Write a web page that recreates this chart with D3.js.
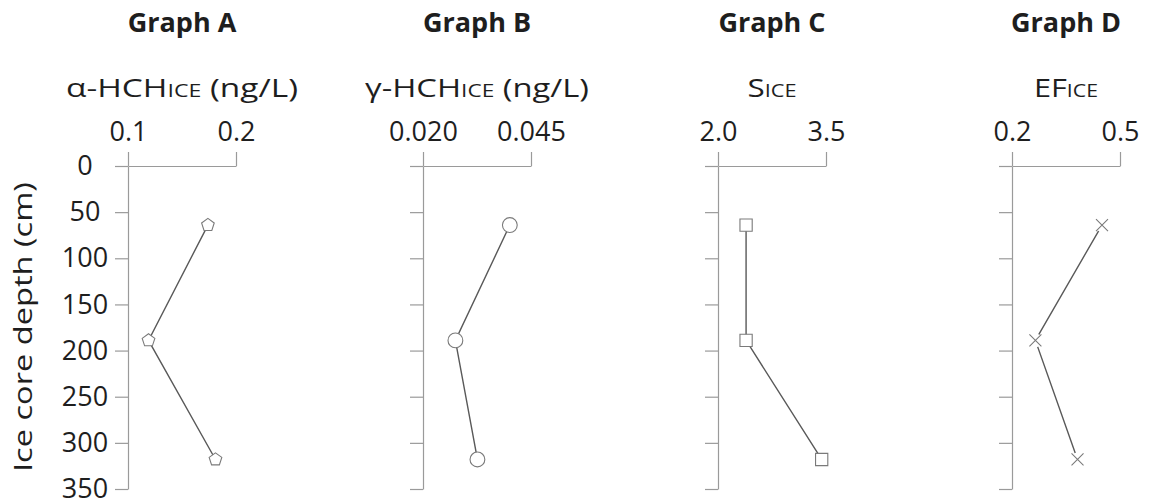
<!DOCTYPE html>
<html>
<head>
<meta charset="utf-8">
<script src="https://cdn.jsdelivr.net/npm/d3@7"></script>
<style>
  body { margin: 0; background: #fff; }
  text { font-family: "Open Sans", sans-serif; fill: #1e1e1e; }
</style>
</head>
<body>
<main></main>
<script>
// Dados (profundidade em cm)
const profundidades = [64, 189, 318];
const alfaHCH = [0.174, 0.119, 0.181];
const gamaHCH = [0.0401, 0.0275, 0.0326];
const sIce = [2.39, 2.39, 3.44];
const efIce = [0.450, 0.265, 0.382];

const titulos = ['Graph A', 'Graph B', 'Graph C', 'Graph D'];
const rotulosPre = ['\u03B1-HCH', '\u03B3-HCH', 'S', 'EF'];
const rotulosPos = [' (ng/L)', ' (ng/L)', '', ''];
const ticksA = [0.1, 0.2];
const ticksB = [0.020, 0.045];
const ticksC = [2.0, 3.5];
const ticksD = [0.2, 0.5];
const ticksY = [0, 50, 100, 150, 200, 250, 300, 350];

// Símbolo pentágono (não existe no d3)
const pentagono = {
    draw(ctx, size) {
        const r = Math.sqrt(size / 2.378);
        for (let i = 0; i < 5; i++) {
            const a = -Math.PI / 2 + i * 2 * Math.PI / 5;
            if (i === 0) ctx.moveTo(r * Math.cos(a), r * Math.sin(a));
            else ctx.lineTo(r * Math.cos(a), r * Math.sin(a));
        }
        ctx.closePath();
    }
};

// Símbolo X
const xis = {
    draw(ctx, size) {
        const r = Math.sqrt(size) / 2;
        ctx.moveTo(-r, -r); ctx.lineTo(r, r);
        ctx.moveTo(r, -r); ctx.lineTo(-r, r);
    }
};

function createChart() {
    const svgWidth = 1151, svgHeight = 503;
    const svg = d3.select('main').append('svg')
        .attr('width', svgWidth)
        .attr('height', svgHeight);

    const top = 166, bottom = 489;
    const larguraPainel = 108;
    const x0s = [128, 423, 718, 1012];

    const yScale = d3.scaleLinear()
        .domain([0, 350])
        .range([top, bottom]);

    const paineis = [
        { valores: alfaHCH, ticks: ticksA, fmt: '.1f', simbolo: pentagono, tamanho: 105, largRotulo: 232 },
        { valores: gamaHCH, ticks: ticksB, fmt: '.3f', simbolo: d3.symbolCircle, tamanho: 172, largRotulo: 224 },
        { valores: sIce, ticks: ticksC, fmt: '.1f', simbolo: d3.symbolSquare, tamanho: 150, largRotulo: 49 },
        { valores: efIce, ticks: ticksD, fmt: '.1f', simbolo: xis, tamanho: 144, largRotulo: 64 }
    ];

    paineis.forEach((p, i) => {
        const x0 = x0s[i];
        const g = svg.append('g');

        const xScale = d3.scaleLinear()
            .domain(p.ticks)
            .range([x0, x0 + larguraPainel]);

        // Eixo vertical (profundidade)
        const eixoY = g.append('g')
            .attr('transform', `translate(${x0},0)`)
            .call(d3.axisLeft(yScale)
                .tickValues(ticksY)
                .tickSize(13)
                .tickSizeOuter(0)
                .tickFormat(i === 0 ? d3.format('d') : () => ''));
        eixoY.selectAll('text')
            .attr('x', -43)
            .attr('text-anchor', 'middle');

        // Eixo horizontal no topo
        const eixoX = g.append('g')
            .attr('transform', `translate(0,${top})`)
            .call(d3.axisTop(xScale)
                .tickValues(p.ticks)
                .tickSize(14)
                .tickSizeOuter(0)
                .tickPadding(11)
                .tickFormat(d3.format(p.fmt)));

        [eixoY, eixoX].forEach(ax => {
            ax.selectAll('path, line').attr('stroke', '#9a9a9a').attr('stroke-width', 1.2);
            ax.selectAll('text')
                .style('font-family', '"Open Sans", sans-serif')
                .style('font-size', '27px')
                .attr('fill', '#1e1e1e');
        });

        // Título do painel
        g.append('text')
            .attr('x', x0 + larguraPainel / 2)
            .attr('y', 32)
            .attr('text-anchor', 'middle')
            .style('font-size', '27px')
            .style('font-weight', 'bold')
            .text(titulos[i]);

        // Rótulo do eixo com ICE em versalete
        const rot = g.append('text')
            .attr('x', x0 + larguraPainel / 2)
            .attr('y', 97)
            .attr('text-anchor', 'middle')
            .attr('textLength', p.largRotulo)
            .attr('lengthAdjust', 'spacingAndGlyphs')
            .style('font-size', '26px');
        rot.append('tspan').text(rotulosPre[i]);
        rot.append('tspan').style('font-size', '18px').text('ICE');
        rot.append('tspan').text(rotulosPos[i]);

        const pontos = p.valores.map((v, k) => [xScale(v), yScale(profundidades[k])]);

        // Linha
        g.append('path')
            .attr('d', d3.line()(pontos))
            .attr('fill', 'none')
            .attr('stroke', '#595959')
            .attr('stroke-width', 1.4);

        // Marcadores
        if (p.simbolo === xis) {
            g.selectAll('.fundo')
                .data(pontos)
                .enter()
                .append('circle')
                .attr('cx', d => d[0])
                .attr('cy', d => d[1])
                .attr('r', 7)
                .attr('fill', '#fff');
        }
        g.selectAll('.marca')
            .data(pontos)
            .enter()
            .append('path')
            .attr('transform', d => `translate(${d[0]},${d[1]})`)
            .attr('d', d3.symbol().type(p.simbolo).size(p.tamanho))
            .attr('fill', '#fff')
            .attr('stroke', '#7a7a7a')
            .attr('stroke-width', 1.1);
    });

    // Título do eixo Y
    svg.append('text')
        .attr('transform', 'translate(32,327) rotate(-90)')
        .attr('text-anchor', 'middle')
        .attr('textLength', 290)
        .attr('lengthAdjust', 'spacingAndGlyphs')
        .style('font-size', '25px')
        .text('Ice core depth (cm)');
}

createChart();
</script>
</body>
</html>
